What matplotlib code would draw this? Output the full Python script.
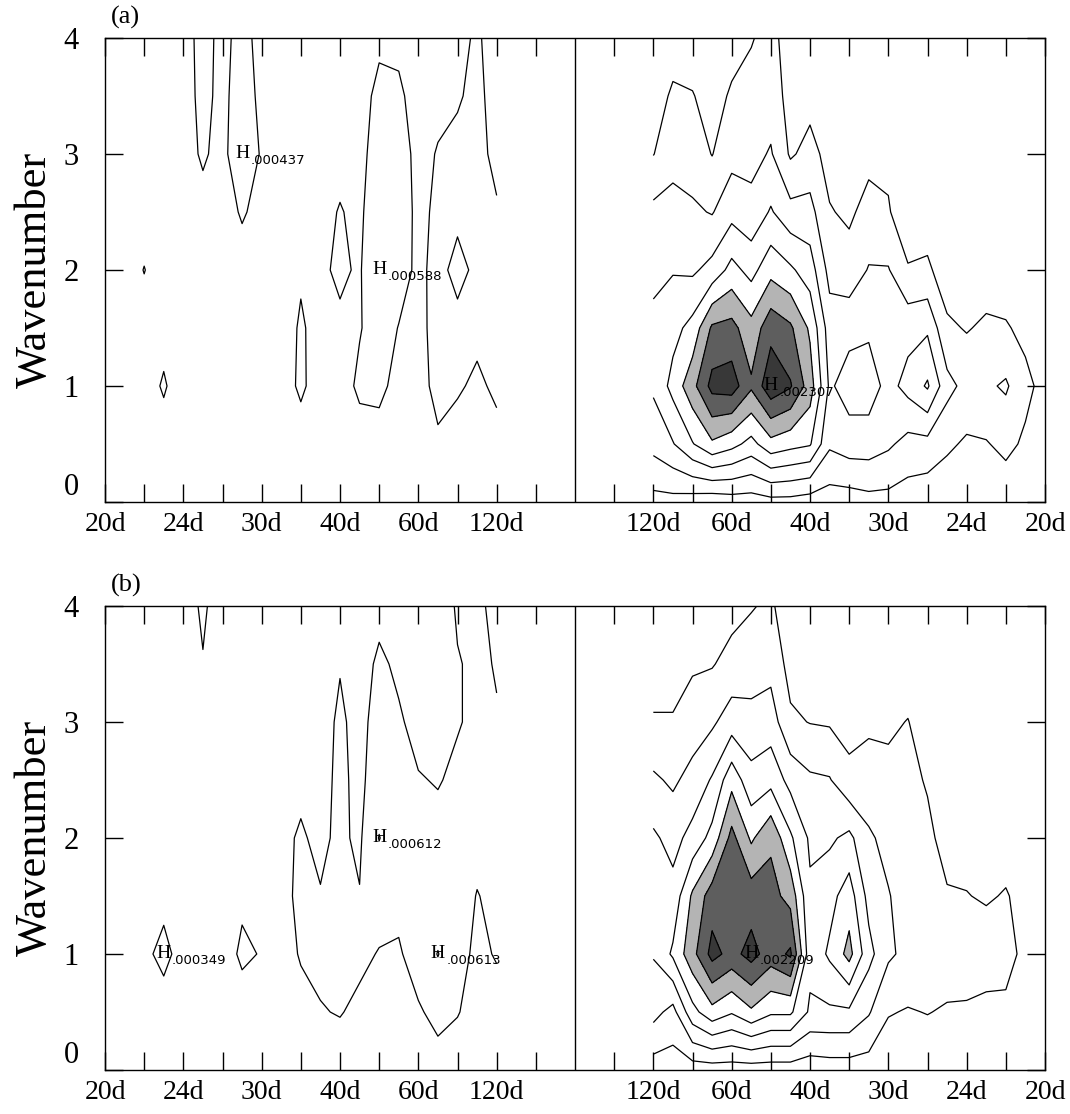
import numpy as np
import matplotlib
matplotlib.use("Agg")
import matplotlib.pyplot as plt
from matplotlib.ticker import FixedLocator, FixedFormatter

# ---------------- data ----------------
# wavenumber rows of every column
wavenumbers = [0, 0.5, 1, 1.5, 2, 2.5, 3, 3.5, 4]
# frequency steps: frequency = step / 480 cycles per day (120d ... 20d)
freq_steps = list(range(4, 25))
freq_per_step = 1.0 / 480.0
# labelled periods (frequency step -> label)
label_steps = [24, 20, 16, 12, 8, 4]
period_labels = ["20d", "24d", "30d", "40d", "60d", "120d"]
power_unit = 1e-4          # values below are in units of 1e-4
line_levels = [3, 6, 9, 12, 15, 18, 21]
fill_levels = [15, 18, 21, 40]
fill_colors = ["#b4b4b4", "#5e5e5e", "#383838"]

# "H" maxima marked in each panel: (signed frequency step, wavenumber);
# negative steps are westward (left half)
peak_marks_a = [(-17, 3.0), (-10, 2.0), (10, 1.0)]
peak_marks_b = [(-21, 1.0), (-10, 2.0), (-7, 1.0), (9, 1.0)]

# one list per frequency step (4..24), values at the wavenumbers above
west_a = [
    [2, 2.5, 3.3, 3.5, 3.4, 3.2, 2.5, 2.2, 2],
    [2, 2.2, 2.7, 3.4, 3.3, 3.4, 3.6, 3.5, 3.3],
    [2, 2.3, 3.2, 3.4, 2.6, 3.3, 3.5, 2.8, 2.4],
    [2, 2.8, 3.4, 3.5, 3.4, 3.3, 3.1, 2.6, 2.3],
    [2, 2, 2.5, 2.6, 2.7, 2.6, 2.5, 2.3, 2.1],
    [2, 2, 2.6, 2.95, 3.6, 3.9, 3.8, 3.3, 2.6],
    [2, 2.5, 3.3, 3.7, 5.88, 4.5, 3.8, 3.4, 2.7],
    [2, 2.3, 3.3, 2.9, 2.7, 2.6, 2.5, 2.4, 2.2],
    [2, 2, 2.3, 2.6, 3.4, 3.1, 2.5, 2.2, 2],
    [2, 2, 2.2, 2.4, 2.6, 2.5, 2.3, 2.2, 2],
    [2, 2.2, 3.3, 3.2, 2.8, 2.4, 2.2, 2, 2],
    [2, 2, 2.2, 2.2, 2.3, 2.3, 2.2, 2.1, 2],
    [2, 2, 2, 2.1, 2.2, 2.4, 2.8, 2.6, 2.5],
    [2, 2, 2, 2.1, 2.2, 3.2, 4.37, 3.8, 3.5],
    [2, 2, 2, 2, 2.1, 2.2, 2.5, 2.6, 2.6],
    [2, 2, 2, 2, 2.3, 2.5, 3.2, 3.4, 3.5],
    [2, 2, 2, 2, 2.2, 2.3, 2.4, 2.4, 2.4],
    [2, 2.2, 3.2, 2.4, 2.2, 2.1, 2, 2, 2],
    [2, 2, 2.2, 2.3, 3.05, 2.3, 2.1, 2, 2],
    [2, 2, 2, 2, 2.2, 2.1, 2, 2, 2],
    [2, 2, 2, 2, 2, 2, 2, 2, 2],
]

east_a = [
    [2, 7, 9.5, 10, 8, 6.8, 2.9, 1.5, 0.5],
    [2, 8.8, 13, 11, 8.8, 7, 5, 3.5, 1.5],
    [1.5, 11.8, 17, 13, 8.5, 6.5, 4.5, 3.2, 1],
    [1, 14.5, 22, 18.5, 10, 5.8, 2.9, 1.5, 0.5],
    [1.5, 13, 22.5, 19, 13, 8, 5, 3.5, 1.5],
    [1.5, 11, 18.5, 16, 11, 7, 5, 4, 2.8],
    [2, 14, 23.07, 20, 14, 9.3, 6.3, 4.5, 4],
    [2, 13, 21.3, 18.5, 12.5, 7, 2.6, 2, 1.5],
    [1.5, 12.3, 16.5, 14.5, 10.5, 7, 4, 2, 1],
    [1.5, 6.5, 8.5, 7.5, 5, 3.2, 2, 1, 0.5],
    [1.5, 7.5, 10.5, 8, 4.2, 2.5, 1.5, 1, 0.5],
    [2, 7.5, 10.5, 8.5, 6.2, 4, 2.2, 1, 0.5],
    [2, 6.5, 8, 7.5, 6.2, 3.2, 2.5, 1, 0.5],
    [1.5, 5, 10, 8, 3.2, 1.5, 1, 0.5, 0.3],
    [1, 5, 12.4, 8.5, 3.5, 1.5, 1, 0.5, 0.2],
    [1, 3.5, 7, 3.5, 1.5, 1, 0.8, 0.4, 0.2],
    [1, 2.6, 5, 2.8, 1.5, 0.8, 0.5, 0.3, 0.2],
    [1, 2.8, 5.5, 3.5, 1.5, 0.8, 0.5, 0.3, 0.2],
    [1, 3.8, 6.4, 3.3, 1.2, 0.6, 0.4, 0.3, 0.2],
    [1, 2.5, 3.8, 2.2, 1, 0.5, 0.3, 0.2, 0.1],
    [0.8, 1.5, 2, 1.5, 0.8, 0.4, 0.3, 0.2, 0.1],
]

west_b = [
    [2, 2.5, 3.1, 3.3, 3.3, 3.2, 3.1, 2.9, 2.6],
    [2, 2.3, 2.7, 2.95, 3.4, 3.4, 3.3, 3.3, 3.3],
    [2, 3.1, 3.5, 3.6, 3.5, 3.3, 2.9, 2.9, 3.2],
    [2.3, 3.5, 6.13, 4, 3.5, 2.9, 2.5, 2.2, 2],
    [2, 2.8, 3.8, 3.6, 3.5, 3.1, 2.5, 2.2, 2],
    [2, 2.2, 2.8, 3.5, 3.8, 3.6, 3.2, 2.7, 2.3],
    [2, 2.3, 2.9, 3.8, 6.12, 4.2, 3.8, 3.3, 2.5],
    [2, 2.6, 3.4, 3.1, 2.6, 2.5, 2.4, 2.3, 2.2],
    [2, 3.1, 3.5, 3.5, 3.4, 3.4, 3.3, 2.9, 2.4],
    [2, 2.9, 3.4, 3.1, 2.6, 2.4, 2.3, 2.2, 2.1],
    [2, 2.6, 3.1, 3.3, 3.2, 2.6, 2.4, 2.2, 2.1],
    [2, 2.2, 2.5, 2.6, 2.6, 2.4, 2.2, 2.1, 2],
    [2, 2.1, 2.9, 2.5, 2.2, 2.1, 2, 2, 2],
    [2, 2.2, 3.3, 2.7, 2.2, 2.1, 2, 2, 2],
    [2, 2, 2.2, 2.2, 2.1, 2, 2, 2, 2],
    [2, 2, 2, 2, 2, 2, 2.3, 2.9, 3.3],
    [2, 2, 2.3, 2.2, 2, 2, 2, 2, 2.1],
    [2, 2.2, 3.49, 2.5, 2.1, 2, 2, 2, 2],
    [2, 2.1, 2.6, 2.3, 2, 2, 2, 2, 2],
    [2, 2, 2, 2, 2, 2, 2, 2, 2],
    [2, 2, 2, 2, 2, 2, 2, 2, 2],
]

east_b = [
    [1.5, 7, 9.2, 11, 9.5, 6.5, 3.3, 1.5, 1],
    [1.5, 5, 12.5, 10, 8, 5.5, 3.2, 2, 1],
    [1.5, 11, 17, 15.5, 10, 7, 4.5, 2.6, 1.5],
    [1.5, 14, 22.0, 19.5, 13, 9.3, 5.5, 2.8, 1],
    [1.5, 12.3, 20, 20, 19, 14, 7.5, 4, 2],
    [1.5, 14.5, 22.09, 19.5, 14.5, 10, 7, 4.5, 2.8],
    [1.5, 12.5, 19.5, 19, 17.5, 11, 7.5, 5, 3.5],
    [1.5, 12.5, 21.5, 17, 12.5, 8, 3.5, 2, 1],
    [1.2, 8.5, 10, 9.5, 8.5, 6.5, 2.9, 2, 1],
    [1.5, 8.5, 12.5, 11, 8.5, 6.2, 2.7, 2, 1],
    [1.5, 8.5, 16, 13.5, 9.75, 3.8, 2, 1.5, 1],
    [1.5, 6.3, 10, 8, 6.5, 4, 2.6, 1.5, 1],
    [1, 3.2, 6.5, 6.2, 5, 3.8, 2.5, 1.5, 1],
    [1, 2.8, 5.2, 4.5, 4, 3.6, 3.1, 1.5, 1],
    [1, 3.1, 4.8, 4.2, 3.5, 2.8, 1.5, 1, 0.8],
    [1, 2.7, 4.5, 3.2, 2.2, 1.5, 1, 0.8, 0.5],
    [1, 2.6, 4.6, 3.1, 2, 1.5, 1, 0.8, 0.5],
    [1, 2.2, 4.5, 2.7, 1.8, 1.2, 0.8, 0.5, 0.3],
    [1, 2.5, 3.8, 3.2, 1.8, 1.2, 0.8, 0.5, 0.3],
    [1, 2, 2.4, 2.1, 1.5, 1, 0.7, 0.5, 0.3],
    [0.8, 1.5, 1.8, 1.5, 1.2, 0.8, 0.6, 0.4, 0.3],
]

# ---------------- figure ----------------
SERIF = ["Liberation Serif", "DejaVu Serif"]
W, H = 1070, 1114
fig = plt.figure(figsize=(W / 100, H / 100), dpi=100)


def fx(px):
    return px / W


def fy(py):
    return 1 - py / H


def draw_panel(ax, west, east, marks):
    m = np.array(wavenumbers)
    f = np.array(freq_steps) * freq_per_step
    Zw = np.array(west).T[:, ::-1]
    xw = -f[::-1]
    Ze = np.array(east).T
    xe = f
    for x, Z in ((xw, Zw), (xe, Ze)):
        ax.contourf(x, m, Z, levels=fill_levels, colors=fill_colors)
        ax.contour(x, m, Z, levels=line_levels, colors="black",
                   linewidths=0.9)
    for step, wn in marks:
        grid = west if step < 0 else east
        col = freq_steps.index(abs(step))
        row = wavenumbers.index(wn)
        val = grid[col][row]
        px = np.sign(step) * abs(step) * freq_per_step
        ax.text(px, wn, "H", ha="center", va="center", fontsize=14,
                family=SERIF, color="black", zorder=5)
        label = ("%.6f" % (val * power_unit))[1:]
        ax.annotate(label, xy=(px, wn), xytext=(6, -5),
                    textcoords="offset points", ha="left", va="center",
                    fontsize=9.5, family="DejaVu Sans", color="black",
                    zorder=5)
    ax.axvline(0, color="black", lw=1.0)
    ax.set_xlim(-0.05, 0.05)
    ax.set_ylim(0, 4)

    major = [-s * freq_per_step for s in label_steps] + \
            [s * freq_per_step for s in label_steps[::-1]]
    labels = period_labels + period_labels[::-1]
    ax.xaxis.set_major_locator(FixedLocator(major))
    ax.xaxis.set_major_formatter(FixedFormatter(labels))
    minor = [j / 240 for j in range(-11, 12) if j != 0]
    ax.xaxis.set_minor_locator(FixedLocator(minor))
    ax.yaxis.set_major_locator(FixedLocator([0, 1, 2, 3, 4]))
    ax.yaxis.set_major_formatter(FixedFormatter(["0", "1", "2", "3", "4"]))
    ax.tick_params(axis="x", which="both", direction="in", top=True,
                   bottom=True, length=13, width=1.0, pad=7)
    ax.tick_params(axis="y", which="both", direction="in", left=True,
                   right=True, length=13, width=1.0, pad=19)
    for lab in ax.get_xticklabels():
        lab.set_fontfamily(SERIF)
        lab.set_fontsize(20)
    for lab in ax.get_yticklabels():
        lab.set_fontfamily(SERIF)
        lab.set_fontsize(22)
    ax.yaxis.get_major_ticks()[0].label1.set_verticalalignment("bottom")
    for sp in ax.spines.values():
        sp.set_linewidth(1.0)


ax_a = fig.add_axes([fx(105), fy(502), fx(1045) - fx(105), fy(38) - fy(502)])
ax_b = fig.add_axes([fx(105), fy(1070), fx(1045) - fx(105), fy(606) - fy(1070)])
draw_panel(ax_a, west_a, east_a, peak_marks_a)
draw_panel(ax_b, west_b, east_b, peak_marks_b)

for ax, tag, ty in ((ax_a, "(a)", 17), (ax_b, "(b)", 585)):
    fig.text(fx(111), fy(ty), tag, ha="left", va="center", fontsize=19,
             family=SERIF)
    pos = ax.get_position()
    fig.text(fx(35), (pos.y0 + pos.y1) / 2, "Wavenumber", rotation=90,
             ha="center", va="center", fontsize=32, family=SERIF)

fig.savefig("out.png", dpi=100)
